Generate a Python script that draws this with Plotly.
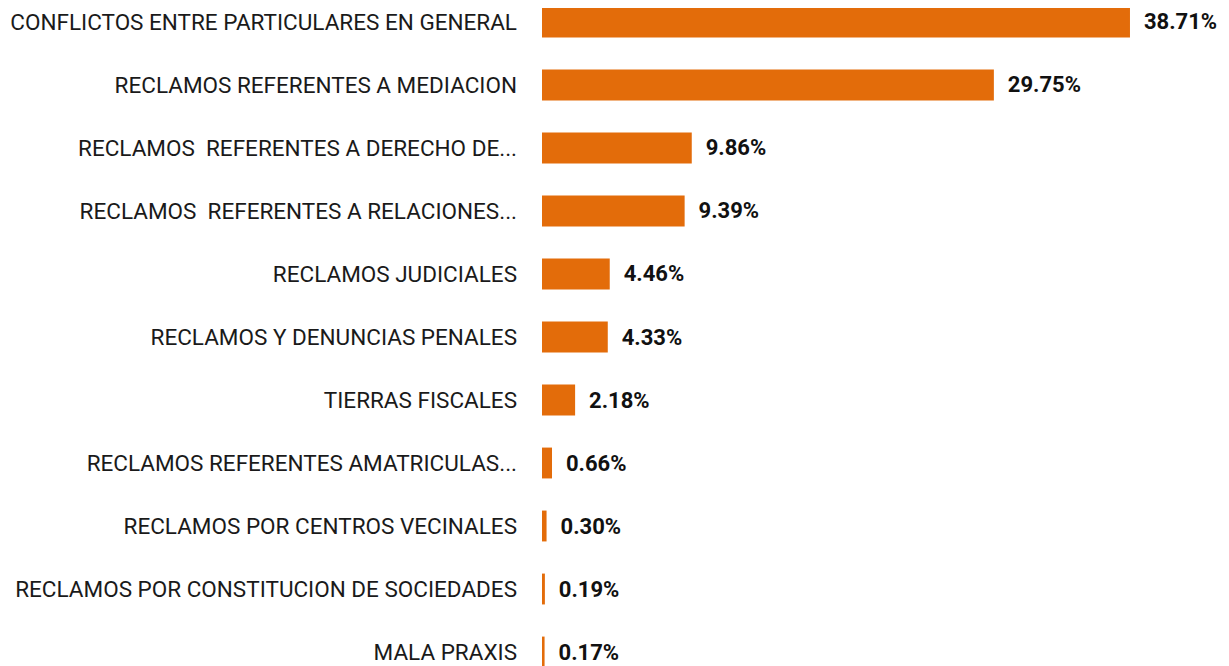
import plotly.graph_objects as go

categories = [
    "CONFLICTOS ENTRE PARTICULARES EN GENERAL",
    "RECLAMOS REFERENTES A MEDIACION",
    "RECLAMOS  REFERENTES A DERECHO DE...",
    "RECLAMOS  REFERENTES A RELACIONES...",
    "RECLAMOS JUDICIALES",
    "RECLAMOS Y DENUNCIAS PENALES",
    "TIERRAS FISCALES",
    "RECLAMOS REFERENTES AMATRICULAS...",
    "RECLAMOS POR CENTROS VECINALES",
    "RECLAMOS POR CONSTITUCION DE SOCIEDADES",
    "MALA PRAXIS",
]
values = [38.71, 29.75, 9.86, 9.39, 4.46, 4.33, 2.18, 0.66, 0.30, 0.19, 0.17]

font_family = "Roboto, Liberation Sans Narrow, sans-serif"

fig = go.Figure(
    go.Bar(
        x=values,
        y=categories,
        orientation="h",
        marker=dict(color="#E36C0A", line=dict(width=0)),
        width=0.49,
        text=values,
        texttemplate="  %{x:.2f}%",
        textposition="outside",
        textfont=dict(family=font_family, size=22, color="#111111", weight="bold"),
        cliponaxis=False,
    )
)

fig.update_layout(
    width=1221,
    height=658,
    margin=dict(l=534, r=0, t=0, b=0, autoexpand=False),
    paper_bgcolor="white",
    plot_bgcolor="white",
    showlegend=False,
    bargap=0.5,
)
fig.update_xaxes(
    range=[0, 45.23],
    visible=False,
    showgrid=False,
    zeroline=False,
)
fig.update_yaxes(
    type="category",
    categoryorder="array",
    categoryarray=categories,
    range=[10.222, -0.222],
    showgrid=False,
    zeroline=False,
    showline=False,
    ticks="",
    ticklabelstandoff=24,
    automargin=False,
    tickfont=dict(family=font_family, size=22.5, color="#1a1a1a"),
)

fig.write_html("out.html")
